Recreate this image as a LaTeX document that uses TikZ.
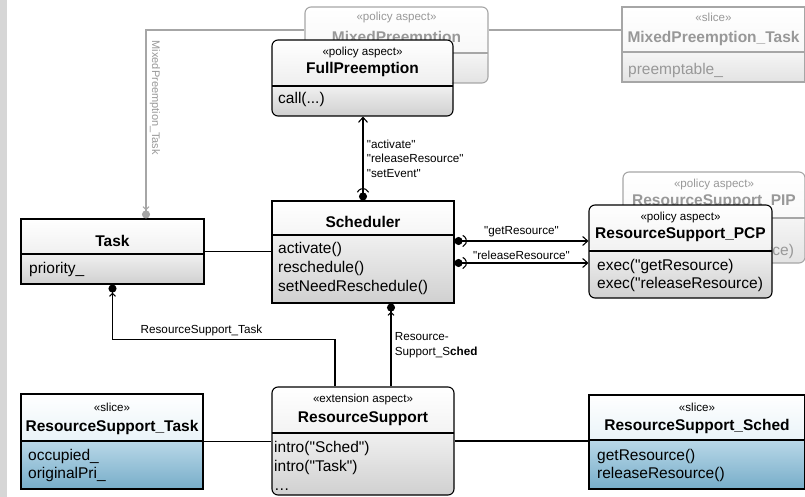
\documentclass[tikz,border=0pt]{standalone}
\usepackage{fontspec}
\setmainfont{Liberation Sans}[Ligatures=TeXOff]
\usetikzlibrary{arrows.meta}

\definecolor{strip}{HTML}{D6D6D6}
\definecolor{hdgrey}{HTML}{E3E3E3}
\definecolor{bdtopgrey}{HTML}{F0F0F0}
\definecolor{bdgrey}{HTML}{D0D0D0}
\definecolor{hdblue}{HTML}{D3E7F1}
\definecolor{bdtopblue}{HTML}{B9D8E8}
\definecolor{bdblue}{HTML}{77ADC9}
\definecolor{fadegrey}{HTML}{A6A6A6}
\definecolor{fadetext}{HTML}{989898}
\definecolor{fadehd}{HTML}{F3F3F3}
\definecolor{fadebdtop}{HTML}{F5F5F5}
\definecolor{fadebd}{HTML}{E3E3E3}

\tikzset{
	hdr/.store in=\hdrh, hdr=46pt,
	boxshades/.style n args={5}{/utils/exec={\colorlet{htop}{#1}\colorlet{hbot}{#2}\colorlet{btop}{#3}\colorlet{bbot}{#4}\colorlet{divline}{#5}}},
	cls/.style={draw, line width=1.1pt, inner sep=0pt, boxshades={white}{hdgrey}{bdtopgrey}{bdgrey}{black},
		path picture={
			\shade[top color=htop, bottom color=hbot] (path picture bounding box.north west) rectangle ([yshift=-\hdrh]path picture bounding box.north east);
			\shade[top color=btop, bottom color=bbot] ([yshift=-\hdrh]path picture bounding box.north west) rectangle (path picture bounding box.south east);
			\draw[divline, line width=1.1pt] ([yshift=-\hdrh]path picture bounding box.north west) -- ([yshift=-\hdrh]path picture bounding box.north east);
		}},
	slicebox/.style={boxshades={white}{hdblue}{bdtopblue}{bdblue}{black}},
	fadedbox/.style={draw=fadegrey, boxshades={white}{fadehd}{fadebdtop}{fadebd}{fadegrey}},
	fadedtxt/.style={text=fadetext},
	stereo/.style={font=\fontsize{11.6}{14}\selectfont, text height=6pt, text depth=0pt, inner sep=0pt},
	title/.style={font=\fontsize{15.5}{19}\selectfont\bfseries, text height=11.5pt, text depth=0pt, inner sep=0pt},
	member/.style={font=\fontsize{15.5}{19}\selectfont, text height=8pt, text depth=0pt, inner sep=0pt, anchor=west},
	lbl/.style={font=\fontsize{11.7}{14.5}\selectfont},
	assoc/.style={line width=1.1pt},
	socket/.style={arrows={{Circle[length=8pt]Arc Barb[reversed, length=6pt, width=13pt, arc=140]}-{Straight Barb[length=5pt, width=9pt]}}},
	ballin/.style={arrows={-{Straight Barb[length=3pt, width=6pt]Circle[length=8pt]}}},
}

\begin{document}
\begin{tikzpicture}[x=1pt, y=-1pt]
	\useasboundingbox (0,0) rectangle (805,497);
	\fill[strip] (0,0) rectangle (7,497);

	% faded aspects behind
	\node[cls, fadedbox, rounded corners=6pt, minimum width=183pt, minimum height=76pt] (mixpre) at (396.5,45) {};
	\node[stereo, fadedtxt] at (396.5,18) {«policy aspect»};
	\node[title, fadedtxt] at (396.5,37) {MixedPreemption};

	\node[cls, fadedbox, hdr=45pt, minimum width=183pt, minimum height=75pt] (mixtask) at (713.5,44.5) {};
	\node[stereo, fadedtxt] at (713.5,19) {«slice»};
	\node[title, fadedtxt] at (713.5,37) {MixedPreemption\_Task};
	\node[member, fadedtxt] at (628,71) {preemptable\_};

	\node[cls, fadedbox, rounded corners=6pt, minimum width=182pt, minimum height=91pt] (pip) at (714,217.5) {};
	\node[stereo, fadedtxt] at (714,184) {«policy aspect»};
	\node[title, fadedtxt] at (714,200) {ResourceSupport\_PIP};
	\foreach \m [count=\i from 0] in {exec("getResource), exec("releaseResource)}
		\node[member, fadedtxt] at (628,232+19*\i) {\m};

	\node[cls, hdr=35pt, minimum width=183pt, minimum height=65pt] (task) at (112.5,251.5) {};
	\node[title] at (112.5,241) {Task};
	\node[member] at (29,269) {priority\_};

	\draw[assoc, fadegrey] ([yshift=15pt]mixpre.east) -- ([yshift=15pt]mixpre.east -| mixtask.west);
	\draw[assoc, fadegrey, ballin] ([yshift=15pt]mixpre.west) -| node[pos=0.68, font=\fontsize{11}{13}\selectfont, fadedtxt, rotate=-90, anchor=south] {MixedPreemption\_Task} ([xshift=33.5pt]task.north);

	% main aspects and classes
	\node[cls, rounded corners=6pt, minimum width=181pt, minimum height=76pt] (fullpre) at (362.5,78) {};
	\node[stereo] at (362.5,53) {«policy aspect»};
	\node[title] at (362.5,68) {FullPreemption};
	\node[member] at (278,100) {call(...)};

	\node[cls, hdr=34pt, minimum width=182pt, minimum height=102pt] (sched) at (363,252) {};
	\node[title] at (363,222) {Scheduler};
	\foreach \m [count=\i from 0] in {activate(), reschedule(), setNeedReschedule()}
		\node[member] at (278,249+19*\i) {\m};

	\node[cls, rounded corners=6pt, minimum width=183pt, minimum height=93pt] (pcp) at (680.5,251.5) {};
	\node[stereo] at (680.5,217) {«policy aspect»};
	\node[title] at (680.5,233) {ResourceSupport\_PCP};
	\foreach \m [count=\i from 0] in {exec("getResource), exec("releaseResource)}
		\node[member] at (597,266+18*\i) {\m};

	\node[cls, rounded corners=6pt, minimum width=182pt, minimum height=108pt] (rs) at (363,441) {};
	\node[stereo] at (363,399) {«extension aspect»};
	\node[title] at (363,417) {ResourceSupport};
	\foreach \m [count=\i from 0] in {intro("Sched"), intro("Task"), \ldots}
		\node[member] at (274,448+19*\i) {\m};

	\node[cls, slicebox, hdr=47pt, minimum width=182pt, minimum height=95pt] (rstask) at (112,441.5) {};
	\node[stereo] at (112,408) {«slice»};
	\node[title] at (112,426) {ResourceSupport\_Task};
	\foreach \m [count=\i from 0] in {occupied\_, originalPri\_}
		\node[member] at (28,456+18*\i) {\m};

	\node[cls, slicebox, hdr=45pt, minimum width=216pt, minimum height=94pt] (rssched) at (697,442) {};
	\node[stereo] at (697,408) {«slice»};
	\node[title] at (697,425) {ResourceSupport\_Sched};
	\foreach \m [count=\i from 0] in {getResource(), releaseResource()}
		\node[member] at (597,456+18*\i) {\m};

	% connectors
	\draw[assoc] (task.east) -- (task.east -| sched.west);
	\draw[assoc, socket] (sched.north) -- (sched.north |- fullpre.south) node[midway, right, align=left, lbl] {"activate"\\"releaseResource"\\"setEvent"};
	\draw[assoc, socket] ([yshift=11pt]sched.east) -- ([yshift=11pt]sched.east -| pcp.west) node[midway, above, lbl] {"getResource"};
	\draw[assoc, socket] ([yshift=-11pt]sched.east) -- ([yshift=-11pt]sched.east -| pcp.west) node[midway, above, lbl] {"releaseResource"};
	\draw[assoc, ballin] ([xshift=28pt]rs.north) -- ([xshift=28pt]sched.south) node[midway, right, align=left, lbl] {Resource-\\Support\_S\textbf{ched}};
	\draw[assoc, ballin] ([xshift=-28pt]rs.north) |- node[pos=0.8, above, lbl] {ResourceSupport\_Task} ([yshift=-55pt]task.south) -- (task.south);
	\draw[assoc] (rstask.east) -- (rstask.east -| rs.west);
	\draw[assoc] (rs.east) -- (rs.east -| rssched.west);
\end{tikzpicture}
\end{document}
